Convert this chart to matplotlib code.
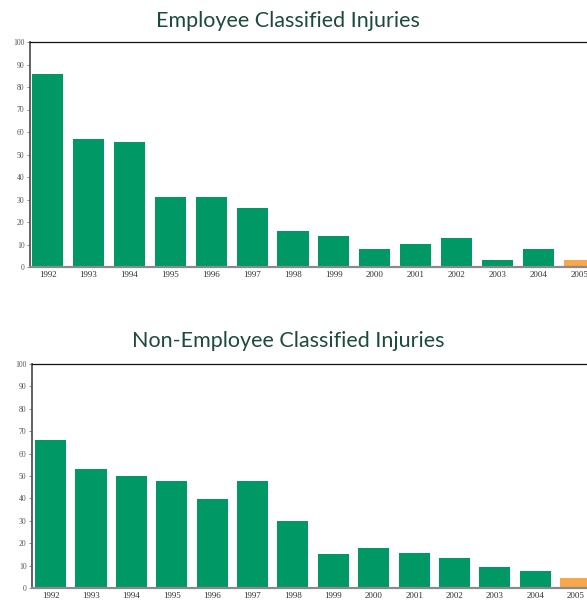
import numpy as np
import matplotlib.pyplot as plt

# --- datos --------------------------------------------------------------------
years = ["1992", "1993", "1994", "1995", "1996", "1997", "1998",
         "1999", "2000", "2001", "2002", "2003", "2004", "2005"]
employee = [86, 57, 55.5, 31, 31.2, 26.3, 16, 13.8, 8, 10.2, 12.8, 3, 8, 3]
non_employee = [66, 53, 50, 47.8, 39.7, 47.8, 29.8, 15.2, 17.7, 15.5, 13.2, 9.2, 7.5, 4.3]
yticks = [0, 10, 20, 30, 40, 50, 60, 70, 80, 90, 100]

GREEN = "#009966"
ORANGE = "#F7A84C"
TITLE_COLOR = "#1c4a3b"

plt.rcParams["font.family"] = ["Lato", "DejaVu Sans"]

fig = plt.figure(figsize=(5.87, 6.00), dpi=100)


def draw_panel(ax, values, title, width, xlim, pad):
    x = np.arange(len(years))
    colors = [GREEN] * (len(years) - 1) + [ORANGE]
    ax.bar(x, values, width=width, color=colors, zorder=2)
    ax.set_xlim(*xlim)
    ax.set_ylim(0, 100)
    ax.set_yticks(yticks)
    ax.set_yticklabels([str(t) for t in yticks], family="Liberation Serif",
                       fontsize=5.5, color="#555555")
    ax.set_xticks(x)
    ax.set_xticklabels(years, family="Liberation Serif", fontsize=6.5, color="#333333")
    ax.tick_params(axis="y", length=2, width=0.6, color="#777777", pad=2)
    ax.tick_params(axis="x", length=0, pad=3)
    ax.spines["right"].set_visible(False)
    ax.spines["top"].set_color("#111111")
    ax.spines["top"].set_linewidth(0.9)
    ax.spines["left"].set_color("#555555")
    ax.spines["left"].set_linewidth(1.3)
    ax.spines["bottom"].set_color("#8a8a8a")
    ax.spines["bottom"].set_linewidth(1.6)
    ax.spines["bottom"].set_zorder(3)
    # título centrado en x≈288 px de la figura
    pos = ax.get_position()
    ax.set_title(title, fontsize=15.5, color=TITLE_COLOR, pad=pad,
                 x=(288 - pos.x0 * 587) / (pos.width * 587))


# panel superior
ax1 = fig.add_axes([30 / 587, 1 - 267 / 600, 557 / 587, 225 / 600])
draw_panel(ax1, employee, "Employee Classified Injuries", 0.76, (-0.43, 13.19), 11)

# panel inferior
ax2 = fig.add_axes([32 / 587, 1 - 588 / 600, 555 / 587, 224 / 600])
draw_panel(ax2, non_employee, "Non-Employee Classified Injuries", 0.77, (-0.46, 13.28), 12)

fig.savefig("out.png", dpi=100)
